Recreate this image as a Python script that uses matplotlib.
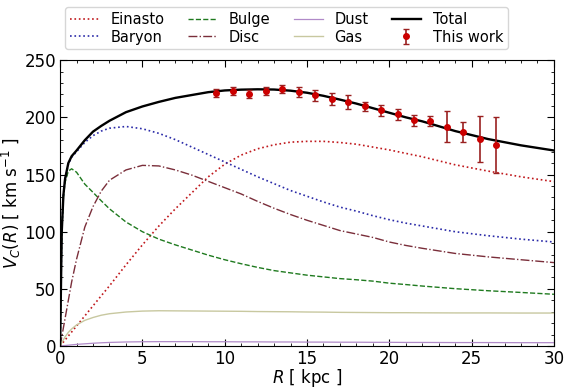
import numpy as np
import matplotlib.pyplot as plt
from matplotlib.ticker import AutoMinorLocator

# radius grid (kpc) for the model curves
R = [0, 0.1, 0.2, 0.3, 0.5, 0.7, 1.0, 1.5, 2, 2.5, 3, 4, 5, 6, 7, 8, 9, 10,
     11, 12, 13, 14, 15, 16, 17, 18, 19, 20, 21, 22, 24, 26, 28, 30]

einasto = [0, 1.8, 3.5, 5.3, 8.8, 12.3, 17.6, 26.4, 35.2, 44, 52.7, 71, 88.5, 105, 120, 134, 148, 159,
           167, 172.5, 176, 178.3, 179, 179, 178, 176.5, 174, 171.5, 168.5, 165.5, 158.5, 153, 148, 143.8]
baryon = [0, 100, 132, 146, 159, 165, 170, 178, 184, 188, 190.5, 192, 190, 186, 180.5, 174, 167.5, 161,
          154.5, 148, 142, 136, 131, 126, 121.5, 118, 114, 110.5, 107.5, 105, 100, 96.5, 93.5, 91]
bulge = [0, 100, 130, 143, 153, 155, 152, 141.6, 134.4, 127, 120, 108.5, 100, 93.5, 88.5, 84, 79.5, 75.5,
         72, 68.8, 66, 64, 62, 60.5, 59, 58, 56.8, 55, 53.8, 52.5, 50.2, 48.4, 46.9, 45.3]
disc = [0, 8, 16, 24, 40, 56, 76, 104, 122, 135.5, 145, 154, 158, 157.5, 154, 149.5, 144, 138.5,
        133, 126.5, 120.5, 115, 110, 105.5, 101, 98, 95, 91, 88, 85.5, 81, 78, 75.5, 73]
dust = [0, 0.2, 0.4, 0.5, 0.8, 1.1, 1.5, 2.0, 2.5, 2.9, 3.2, 3.6, 3.8, 3.9, 3.9, 3.9, 3.8, 3.8,
        3.7, 3.7, 3.6, 3.6, 3.5, 3.5, 3.4, 3.4, 3.3, 3.3, 3.2, 3.2, 3.1, 3.1, 3.0, 3.0]
gas = [0, 3, 5.5, 8, 12, 15, 18.5, 22.5, 25, 27, 28.3, 29.8, 30.6, 30.9, 30.8, 30.7, 30.6, 30.5,
       30.4, 30.2, 30.1, 30.0, 29.8, 29.7, 29.5, 29.4, 29.3, 29.2, 29.2, 29.1, 29.0, 29.0, 28.9, 28.9]
total = [0, 100, 132, 146, 160, 166, 171, 180, 187.5, 192.5, 197, 204.5, 209.5, 213.5, 217, 219.5, 222, 223.5,
         224.2, 224.5, 224.3, 223.3, 221.5, 218.8, 215.5, 212, 208, 204, 200, 196.5, 188, 181, 175.5, 171]

# measured rotation curve
R_obs = [9.5, 10.5, 11.5, 12.5, 13.5, 14.5, 15.5, 16.5, 17.5, 18.5, 19.5, 20.5, 21.5,
         22.5, 23.5, 24.5, 25.5, 26.5]
V_obs = [221.6, 223.4, 220.8, 223.1, 224.5, 222, 219.3, 216.4, 213.5, 209.5, 206.3, 202.5,
         197.3, 196.8, 191.8, 187.2, 181.1, 175.6]
V_err = [3.6, 3.5, 3.5, 3.5, 3.5, 4.3, 4.8, 5.2, 6.0, 4.0, 4.8, 4.6, 4.6, 4.0, 13.3, 8.4, 19.8, 24.7]

fig = plt.figure(figsize=(5.67, 3.88), dpi=100)
ax = fig.add_axes([0.106, 0.108, 0.871, 0.737])

ax.plot(R, einasto, color='#c0181c', ls=':', lw=1.2, label='Einasto')
ax.plot(R, baryon, color='#2a2aa8', ls=':', lw=1.2, label='Baryon')
ax.plot(R, bulge, color='#1f7a1f', ls='--', lw=1.0, label='Bulge')
ax.plot(R, disc, color='#7a2e3a', ls='-.', lw=1.0, label='Disc')
ax.plot(R, dust, color='#b08ac8', ls='-', lw=0.9, label='Dust')
ax.plot(R, gas, color='#c8c8a0', ls='-', lw=1.0, label='Gas')
ax.plot(R, total, color='black', ls='-', lw=1.7, label='Total')
ax.errorbar(R_obs, V_obs, yerr=V_err, fmt='o', color='#cc0000', ms=4,
            ecolor='#9a2020', elinewidth=1.2, capsize=2.5, capthick=1.0, label='This work')

ax.set_xlim(0, 30)
ax.set_ylim(0, 250)
ax.set_xticks([0, 5, 10, 15, 20, 25, 30])
ax.set_yticks([0, 50, 100, 150, 200, 250])
ax.xaxis.set_minor_locator(AutoMinorLocator(5))
ax.yaxis.set_minor_locator(AutoMinorLocator(5))
ax.tick_params(which='both', direction='in', top=True, right=True, labelsize=12)
ax.tick_params(which='major', length=5, pad=3)
ax.tick_params(which='minor', length=2.5)
ax.set_xlabel(r'$R$ [ kpc ]', fontsize=12, labelpad=-1)
ax.set_ylabel(r'$V_C(R)$ [ km s$^{-1}$ ]', fontsize=12, labelpad=1)

handles, labels = ax.get_legend_handles_labels()
fig.legend(handles, labels, ncol=4, loc='upper center', bbox_to_anchor=(0.505, 1.0),
           fontsize=10.5, frameon=True, handlelength=2.0, columnspacing=1.6,
           labelspacing=0.2, borderpad=0.3, handletextpad=0.8)

fig.savefig('out.png', dpi=100)
